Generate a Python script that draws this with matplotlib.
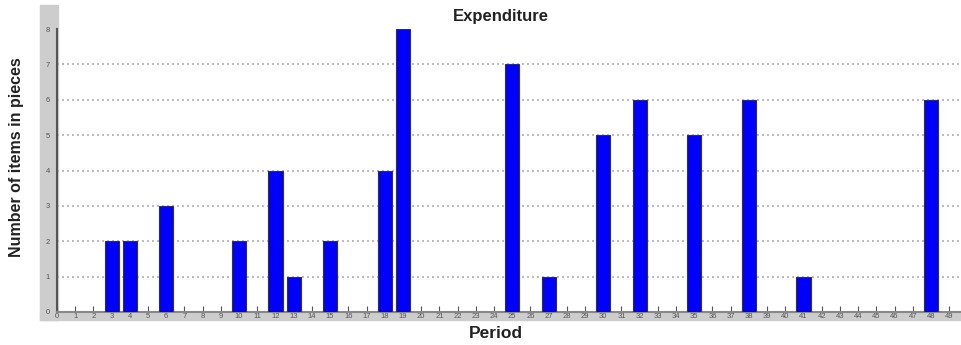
import matplotlib.pyplot as plt
from matplotlib.patches import Rectangle

# items bought per period (periods with no purchases are left out)
periods = [3, 4, 6, 10, 12, 13, 15, 18, 19, 25, 27, 30, 32, 35, 38, 41, 48]
items = [2, 2, 3, 2, 4, 1, 2, 4, 8, 7, 1, 5, 6, 5, 6, 1, 6]
x_ticks = list(range(0, 50))
y_ticks = list(range(0, 9))

W, H = 961, 345
fig = plt.figure(figsize=(W / 100, H / 100), dpi=100)
plt.rcParams['font.family'] = ['Liberation Sans', 'DejaVu Sans']

# grey frame band to the left of and under the axes
fig.patches.append(Rectangle((40 / W, 1 - 320 / H), 18 / W, 315 / H,
                             transform=fig.transFigure, color='#cdcdcd', zorder=-1))
fig.patches.append(Rectangle((40 / W, 1 - 320 / H), 1 - 40 / W, 8 / H,
                             transform=fig.transFigure, color='#cdcdcd', zorder=-1))

left, right = 57 / W, 1.0
bottom, top = 1 - 312 / H, 1 - 29 / H
ax = fig.add_axes([left, bottom, right - left, top - bottom])
ax.set_facecolor('none')

ax.bar(periods, items, width=0.78, color='#0000ff', edgecolor='#333333',
       linewidth=0.8, zorder=3)

ax.set_xlim(0, 49.65)
ax.set_ylim(0, 8)
ax.set_xticks(x_ticks)
ax.set_yticks(y_ticks)
ax.set_xticklabels([str(v) for v in x_ticks], fontsize=5.5, color='#555555')
ax.set_yticklabels([str(v) for v in y_ticks], fontsize=5.5, color='#555555')
ax.tick_params(axis='x', direction='in', length=4, width=0.8, color='#555555', pad=1)
ax.tick_params(axis='y', length=0, pad=5)

for y in range(1, 8):
    ax.axhline(y, color='#b0b0b0', linestyle=(0, (1.2, 1.8)), linewidth=1.2, zorder=1)

for s in ['top', 'right']:
    ax.spines[s].set_visible(False)
ax.spines['left'].set_color('#555555')
ax.spines['left'].set_linewidth(1.5)
ax.spines['bottom'].set_color('#888888')
ax.spines['bottom'].set_linewidth(1.5)

fig.text(501 / W, 1 - 16 / H, 'Expenditure', ha='center', va='center',
         fontsize=12, fontweight='bold', color='#222222')
fig.text(496 / W, 1 - 333 / H, 'Period', ha='center', va='center',
         fontsize=12.5, fontweight='bold', color='#222222')
fig.text(17 / W, 1 - 157 / H, 'Number of items in pieces', ha='center', va='center',
         rotation=90, fontsize=11.5, fontweight='bold', color='#222222')

fig.savefig('out.png', dpi=100)
